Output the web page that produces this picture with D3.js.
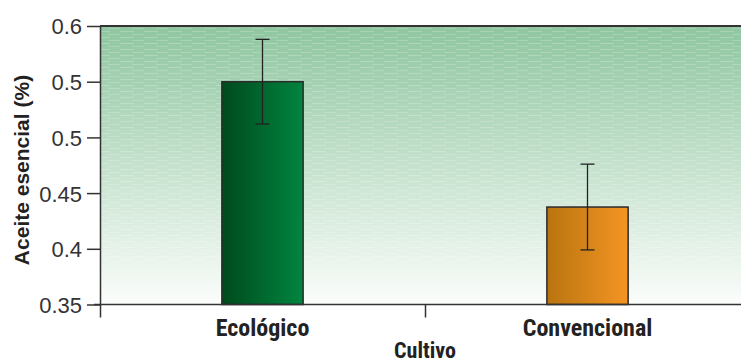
<!DOCTYPE html>
<html>
<head>
<meta charset="utf-8">
<script src="https://cdn.jsdelivr.net/npm/d3@7"></script>
<style>
  body { margin: 0; background: #fff; }
  svg { display: block; }
</style>
</head>
<body>
<svg id="chart" width="741" height="363"></svg>
<script>
// data
const categories = ['Ecológico', 'Convencional'];
const means = [0.55, 0.4375];
const errors = [0.038, 0.0385];
const yTicks = [0.35, 0.4, 0.45, 0.5, 0.55, 0.6];
const yTickLabels = ['0.35', '0.4', '0.45', '0.5', '0.5', '0.6'];
const barColors = [['#004a1d', '#00853f'], ['#b9740f', '#f49524']];

const margin = { top: 26, right: -9, bottom: 58, left: 100 };
const width = 741;
const height = 363;
const sans = '"Liberation Sans", Arial, sans-serif';
const narrow = '"Liberation Sans Narrow", "Roboto Condensed", "Liberation Sans", sans-serif';

const svg = d3.select('#chart');
const defs = svg.append('defs');

// plot background: green fading to white
const bg = defs.append('linearGradient')
    .attr('id', 'bgGrad')
    .attr('x1', 0).attr('y1', 0).attr('x2', 0).attr('y2', 1);
bg.append('stop').attr('offset', '0%').attr('stop-color', '#8fc6a0');
bg.append('stop').attr('offset', '100%').attr('stop-color', '#fbfdfb');

// faint horizontal streak texture
const pat = defs.append('pattern')
    .attr('id', 'streaks')
    .attr('patternUnits', 'userSpaceOnUse')
    .attr('width', 24).attr('height', 6);
pat.append('rect').attr('x', 0).attr('y', 1).attr('width', 14).attr('height', 1)
    .attr('fill', '#ffffff').attr('opacity', 0.22);
pat.append('rect').attr('x', 12).attr('y', 4).attr('width', 14).attr('height', 1)
    .attr('fill', '#ffffff').attr('opacity', 0.18);

barColors.forEach((c, i) => {
    const g = defs.append('linearGradient')
        .attr('id', 'bar' + i)
        .attr('x1', 0).attr('y1', 0).attr('x2', 1).attr('y2', 0);
    g.append('stop').attr('offset', '0%').attr('stop-color', c[0]);
    g.append('stop').attr('offset', '100%').attr('stop-color', c[1]);
});

const x = d3.scaleBand()
    .domain(categories)
    .range([margin.left, width - margin.right])
    .paddingInner(0)
    .paddingOuter(0);

const y = d3.scaleLinear()
    .domain([0.35, 0.6])
    .range([height - margin.bottom - 0.5, margin.top]);

const plotW = width - margin.left;
const plotH = y(0.35) - y(0.6);

svg.append('rect')
    .attr('x', margin.left).attr('y', margin.top)
    .attr('width', plotW).attr('height', plotH)
    .attr('fill', 'url(#bgGrad)');
svg.append('rect')
    .attr('x', margin.left).attr('y', margin.top)
    .attr('width', plotW).attr('height', plotH * 0.85)
    .attr('fill', 'url(#streaks)');

// top frame line
svg.append('line')
    .attr('x1', margin.left).attr('x2', width)
    .attr('y1', margin.top).attr('y2', margin.top)
    .attr('stroke', '#333').attr('stroke-width', 2);

// bars
const barW = x.bandwidth() * 0.25;
svg.selectAll('rect.bar')
    .data(categories)
    .join('rect')
    .attr('class', 'bar')
    .attr('x', d => x(d) + x.bandwidth() / 2 - barW / 2)
    .attr('y', (d, i) => y(means[i]))
    .attr('width', barW)
    .attr('height', (d, i) => y(0.35) - y(means[i]))
    .attr('fill', (d, i) => `url(#bar${i})`)
    .attr('stroke', '#2b2b2b')
    .attr('stroke-width', 1.5);

// error bars
const err = svg.selectAll('g.err')
    .data(categories)
    .join('g')
    .attr('class', 'err')
    .attr('stroke', '#222')
    .attr('stroke-width', 1.3);
err.append('line')
    .attr('x1', d => x(d) + x.bandwidth() / 2)
    .attr('x2', d => x(d) + x.bandwidth() / 2)
    .attr('y1', (d, i) => y(means[i] + errors[i]))
    .attr('y2', (d, i) => y(means[i] - errors[i]));
[1, -1].forEach(s => {
    err.append('line')
        .attr('x1', d => x(d) + x.bandwidth() / 2 - 7)
        .attr('x2', d => x(d) + x.bandwidth() / 2 + 7)
        .attr('y1', (d, i) => y(means[i] + s * errors[i]))
        .attr('y2', (d, i) => y(means[i] + s * errors[i]));
});

// y axis
const yAxis = svg.append('g')
    .attr('transform', `translate(${margin.left},0)`)
    .call(d3.axisLeft(y)
        .tickValues(yTicks)
        .tickFormat((d, i) => yTickLabels[i])
        .tickSize(13)
        .tickSizeOuter(0)
        .tickPadding(5));
yAxis.select('.domain').attr('stroke', '#333').attr('stroke-width', 1.5);
yAxis.selectAll('.tick line').attr('stroke', '#333').attr('stroke-width', 1.5);
yAxis.selectAll('.tick text')
    .attr('fill', '#333')
    .attr('dy', '0.36em')
    .style('font-family', sans)
    .style('font-size', '22px');

// x axis
const xAxis = svg.append('g')
    .attr('transform', `translate(0,${y(0.35)})`)
    .call(d3.axisBottom(x).tickSize(0).tickSizeOuter(0));
xAxis.select('.domain').remove();
xAxis.append('line')
    .attr('x1', margin.left - 6).attr('x2', width)
    .attr('stroke', '#333').attr('stroke-width', 1.5);
// boundary ticks between bands
xAxis.selectAll('line.bound')
    .data(categories)
    .join('line')
    .attr('class', 'bound')
    .attr('x1', d => Math.round(x(d)) + 0.5)
    .attr('x2', d => Math.round(x(d)) + 0.5)
    .attr('y1', 0).attr('y2', 13)
    .attr('stroke', '#333').attr('stroke-width', 1.5);
xAxis.selectAll('.tick text')
    .attr('y', 31)
    .attr('dy', null)
    .attr('fill', '#222')
    .style('font-family', narrow)
    .style('font-weight', 'bold')
    .style('font-size', '24px');

// axis titles
svg.append('text')
    .attr('transform', 'translate(29,170) rotate(-90)')
    .attr('text-anchor', 'middle')
    .attr('fill', '#222')
    .style('font-family', sans)
    .style('font-weight', 'bold')
    .style('font-size', '21px')
    .text('Aceite esencial (%)');

svg.append('text')
    .attr('x', (margin.left + 750) / 2)
    .attr('y', 358)
    .attr('text-anchor', 'middle')
    .attr('fill', '#222')
    .style('font-family', narrow)
    .style('font-weight', 'bold')
    .style('font-size', '22px')
    .text('Cultivo');
</script>
</body>
</html>
